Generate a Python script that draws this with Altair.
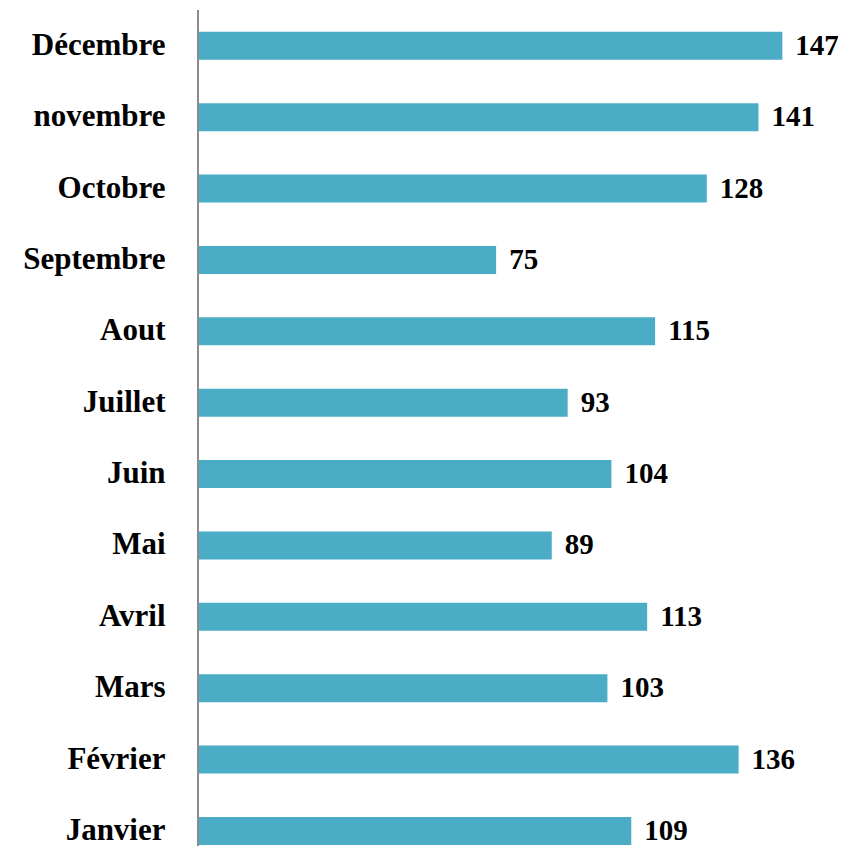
import altair as alt
import pandas as pd

months = ["Janvier", "Février", "Mars", "Avril", "Mai", "Juin",
          "Juillet", "Aout", "Septembre", "Octobre", "novembre", "Décembre"]
values = [109, 136, 103, 113, 89, 104, 93, 115, 75, 128, 141, 147]

df = pd.DataFrame({"mois": months, "valeur": values})
order = list(reversed(months))

FONT = "Liberation Serif"
W, H = 636, 836

y_enc = alt.Y("mois:N", sort=order,
              scale=alt.Scale(range=[21.8, 835], paddingInner=0.6077, paddingOuter=0),
              axis=alt.Axis(title=None, ticks=False, domain=False, labelPadding=33,
                            labelFont=FONT, labelFontSize=31, labelFontWeight="bold",
                            labelColor="#000000", labelAlign="right", labelBaseline="middle"))
x_enc = alt.X("valeur:Q", scale=alt.Scale(domain=[0, 160]), axis=None)

base = alt.Chart(df)
bars = base.mark_bar(color="#4BACC6").encode(x=x_enc, y=y_enc)
text = base.mark_text(align="left", baseline="middle", dx=13, font=FONT,
                      fontSize=29, fontWeight="bold", color="#000000").encode(
    x=x_enc, y=y_enc, text="valeur:Q")
rule = alt.Chart(pd.DataFrame({"a": [0]})).mark_rule(color="#8c8c8c", strokeWidth=2).encode(
    x=alt.value(0), y=alt.value(0), y2=alt.value(H))

chart = alt.layer(bars, text, rule).properties(
    width=W, height=H,
    autosize=alt.AutoSizeParams(type="none"),
    padding={"left": 190, "top": 2, "right": 4, "bottom": 0},
).configure_view(stroke=None).configure_axis(grid=False)

chart.save("out.html", embed_options={"renderer": "svg", "actions": False})
